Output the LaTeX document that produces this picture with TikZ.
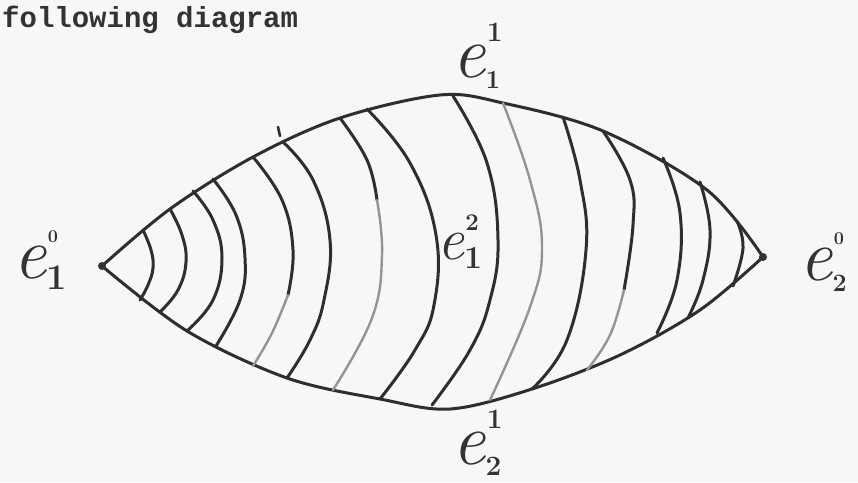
\documentclass[tikz,border=0pt]{standalone}
\usepackage{fontspec}
\newfontfamily\courfont{Liberation Mono}
\newcommand{\dg}[2]{\hbox{\fontsize{#1}{#1}\selectfont\bfseries #2}}
\newcommand{\elab}[5]{{\fontsize{#1}{#1}\selectfont\itshape e\upshape\rlap{\kern0.02em\raisebox{0.48em}{\dg{#3}{#2}}}\raisebox{-0.15em}{\dg{#5}{#4}}}}
\begin{document}
\begin{tikzpicture}[x=1pt,y=-1pt,
  ink/.style={draw=black!82, line width=3pt, line cap=round, line join=round},
  faint/.style={draw=black!42, line width=2.4pt, line cap=round, line join=round},
  lab/.style={anchor=base west, inner sep=0pt, text=black!80},
  vdot/.style={circle, fill=black!80, inner sep=0pt, minimum size=8pt}]
\useasboundingbox (0,0) rectangle (858,482);
\fill[black!3] (0,0) rectangle (858,482);

\node[lab, font=\courfont\bfseries\fontsize{29}{29}\selectfont] (title) at (2,27) {following diagram};

% outline
\draw[ink] plot[smooth, tension=0.55] coordinates {(102,266) (170,209) (253,157) (340,118) (440,95) (503,103) (603,131) (707,190) (763,257)};
\draw[ink] plot[smooth, tension=0.55] coordinates {(102,266) (187,331) (287,378) (380,399) (450,409) (532,389) (620,355) (700,310) (763,257)};
% tick mark
\draw[ink, line width=2.6pt] (278,127) -- (280,136);

% arcs
\draw[ink] plot[smooth, tension=0.7] coordinates {(143,230) (151,250) (153,268) (148,285) (140,300)};
\draw[ink] plot[smooth, tension=0.7] coordinates {(170,209) (182,235) (186,262) (178,290) (160,312)};
\draw[ink] plot[smooth, tension=0.7] coordinates {(193,191) (213,220) (222,258) (213,300) (187,331)};
\draw[ink] plot[smooth, tension=0.7] coordinates {(213,179) (236,215) (245,258) (240,300) (216,346)};
\draw[ink] plot[smooth, tension=0.7] coordinates {(253,157) (282,200) (293,250) (288,295)};
\draw[faint] plot[smooth, tension=0.7] coordinates {(288,295) (272,333) (253,366)};
\draw[ink] plot[smooth, tension=0.7] coordinates {(283,142) (313,180) (330,240) (324,300) (310,340) (287,378)};
\draw[ink] plot[smooth, tension=0.7] coordinates {(340,118) (367,160) (377,200)};
\draw[faint] plot[smooth, tension=0.7] coordinates {(377,200) (382,255) (372,318) (333,390)};
\draw[ink] plot[smooth, tension=0.7] coordinates {(367,109) (410,163) (436,235) (434,305) (415,350) (380,399)};
\draw[ink] plot[smooth, tension=0.7] coordinates {(453,96) (487,163) (498,240) (490,300) (470,350) (432,405)};
\draw[faint] plot[smooth, tension=0.7] coordinates {(503,103) (530,180) (542,247) (530,307) (490,400)};
\draw[ink] plot[smooth, tension=0.7] coordinates {(563,117) (580,180) (586,250) (567,340) (532,389)};
\draw[ink] plot[smooth, tension=0.7] coordinates {(603,131) (630,180) (633,225) (624,290)};
\draw[faint] plot[smooth, tension=0.7] coordinates {(624,290) (610,335) (587,370)};
\draw[ink] plot[smooth, tension=0.7] coordinates {(663,158) (680,213) (677,280) (657,333)};
\draw[ink] plot[smooth, tension=0.7] coordinates {(700,182) (710,230) (703,280) (688,318)};
\draw[ink] plot[smooth, tension=0.7] coordinates {(737,221) (743,248) (733,286)};

% vertices
\node[vdot] (v1) at (102,266) {};
\node[vdot] (v2) at (763,257) {};

% labels
\node[lab] (e10) at (13,278) {\elab{74}{0}{18}{1}{36}};
\node[lab] (e20) at (799,280) {\elab{74}{0}{18}{2}{25}};
\node[lab] (e11) at (452,77) {\elab{74}{1}{28}{1}{26}};
\node[lab] (e21) at (452,464) {\elab{74}{1}{28}{2}{28}};
\node[lab] (e12) at (437,259) {\elab{60}{2}{24}{1}{32}};
\end{tikzpicture}
\end{document}
